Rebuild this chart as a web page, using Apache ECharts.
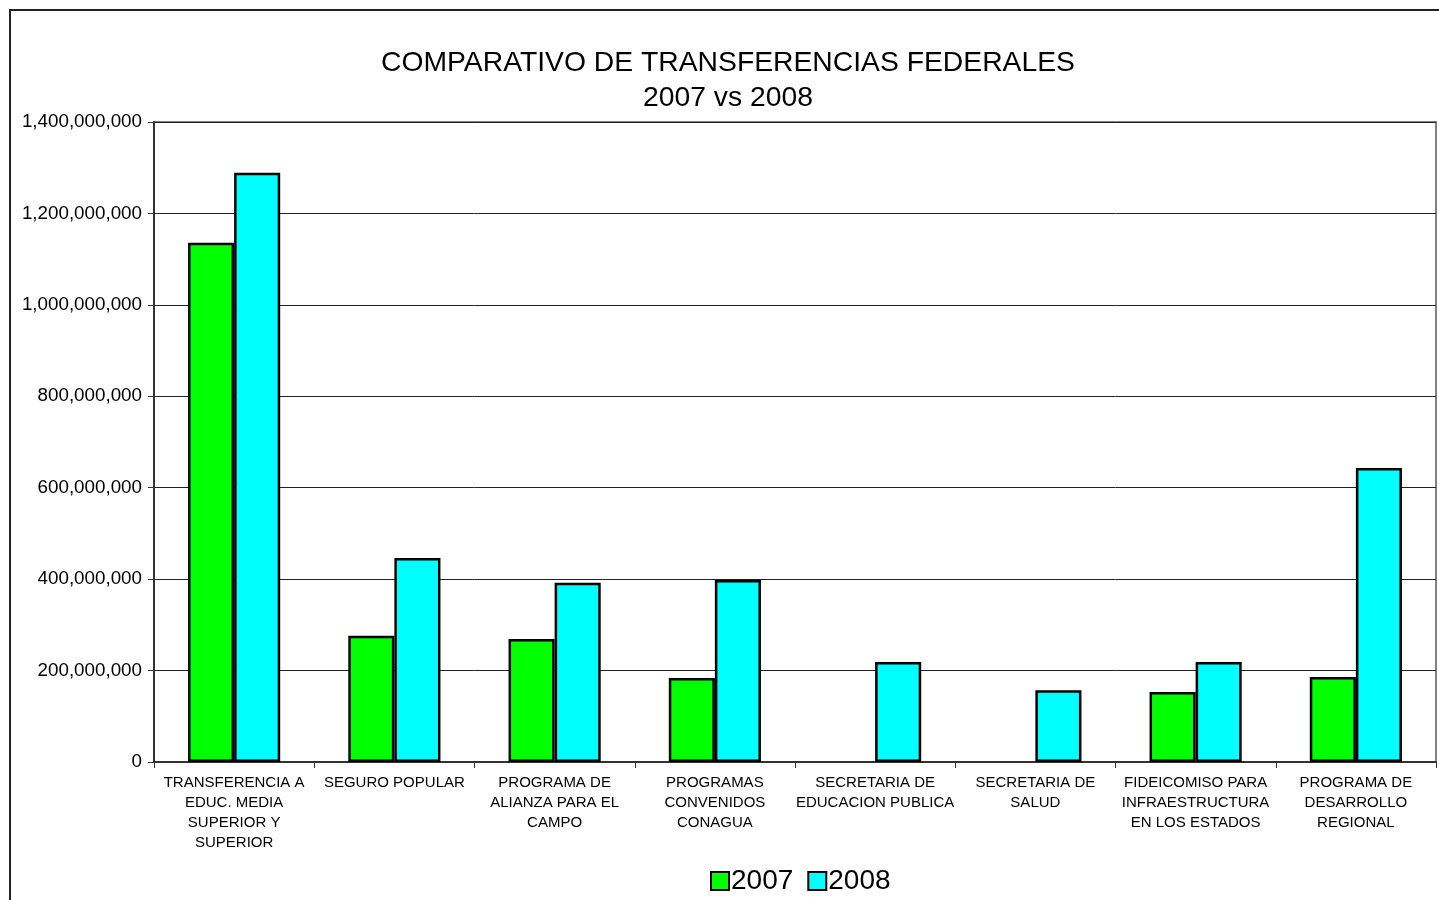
<!DOCTYPE html>
<html>
<head>
<meta charset="utf-8">
<title>Comparativo de transferencias federales</title>
<script src="https://cdn.jsdelivr.net/npm/echarts@6/dist/echarts.min.js"></script>
<style>
  html, body { margin: 0; padding: 0; background: #fff; }
  #main { width: 1439px; height: 900px; }
</style>
</head>
<body>
<div id="main"></div>
<script>
// categorias (con saltos de linea como en el original)
var categorias = [
  'TRANSFERENCIA A\nEDUC. MEDIA\nSUPERIOR Y\nSUPERIOR',
  'SEGURO POPULAR',
  'PROGRAMA DE\nALIANZA PARA EL\nCAMPO',
  'PROGRAMAS\nCONVENIDOS\nCONAGUA',
  'SECRETARIA DE\nEDUCACION PUBLICA',
  'SECRETARIA DE\nSALUD',
  'FIDEICOMISO PARA\nINFRAESTRUCTURA\nEN LOS ESTADOS',
  'PROGRAMA DE\nDESARROLLO\nREGIONAL'
];
var serieNombres = ['2007', '2008'];
var valores2007 = [1136000000, 276000000, 269000000, 184000000, null, null, 153000000, 186000000];
var valores2008 = [1289000000, 446000000, 392000000, 398000000, 219000000, 157000000, 219000000, 643000000];
var yMin = 0, yMax = 1400000000, yPaso = 200000000;

var chart = echarts.init(document.getElementById('main'));

function fmt(v) {
  return Number(v).toLocaleString('en-US');
}

var option = {
  backgroundColor: '#fff',
  animation: false,
  textStyle: { fontFamily: 'Liberation Sans, Arial, sans-serif', color: '#000' },
  title: {
    text: 'COMPARATIVO DE TRANSFERENCIAS FEDERALES\n2007 vs 2008',
    left: 723,
    top: 41,
    textAlign: 'center',
    textStyle: { fontSize: 28.3, fontWeight: 'normal', color: '#000', lineHeight: 35, fontFamily: 'Liberation Sans, Arial, sans-serif' }
  },
  legend: {
    data: serieNombres,
    left: 705,
    top: 862,
    itemWidth: 18,
    itemHeight: 18,
    itemGap: 14,
    icon: 'rect',
    textStyle: { fontSize: 28, color: '#000', padding: [0, 0, 0, -3] },
    itemStyle: { borderColor: '#000', borderWidth: 2 }
  },
  grid: {
    left: 154, top: 122, right: 3, bottom: 138,
    show: true,
    borderColor: '#808080',
    borderWidth: 2,
    backgroundColor: '#fff'
  },
  xAxis: {
    type: 'category',
    data: categorias,
    axisLine: { show: true, lineStyle: { color: '#333', width: 2 } },
    axisTick: { show: true, length: 6, lineStyle: { color: '#333' } },
    axisLabel: { interval: 0, fontSize: 15, lineHeight: 20, color: '#000', margin: 11 }
  },
  yAxis: {
    type: 'value',
    min: yMin, max: yMax, interval: yPaso,
    axisLine: { show: true, lineStyle: { color: '#333', width: 2 } },
    axisTick: { show: true, length: 6, lineStyle: { color: '#333' } },
    axisLabel: { fontSize: 18.8, color: '#000', margin: 12, formatter: fmt },
    splitLine: { show: true, lineStyle: { color: '#222', width: 1 } }
  },
  series: [
    {
      name: serieNombres[0],
      type: 'bar',
      data: valores2007,
      barGap: '0%',
      barCategoryGap: '42.5%',
      itemStyle: { color: '#00ff00', borderColor: '#000', borderWidth: 2.5 }
    },
    {
      name: serieNombres[1],
      type: 'bar',
      data: valores2008,
      itemStyle: { color: '#00ffff', borderColor: '#000', borderWidth: 2.5 }
    }
  ],
  graphic: [
    {
      type: 'rect',
      silent: true,
      shape: { x: 10, y: 10, width: 1460, height: 920 },
      style: { fill: null, stroke: '#222', lineWidth: 2 }
    }
  ]
};

chart.setOption(option);
</script>
</body>
</html>
